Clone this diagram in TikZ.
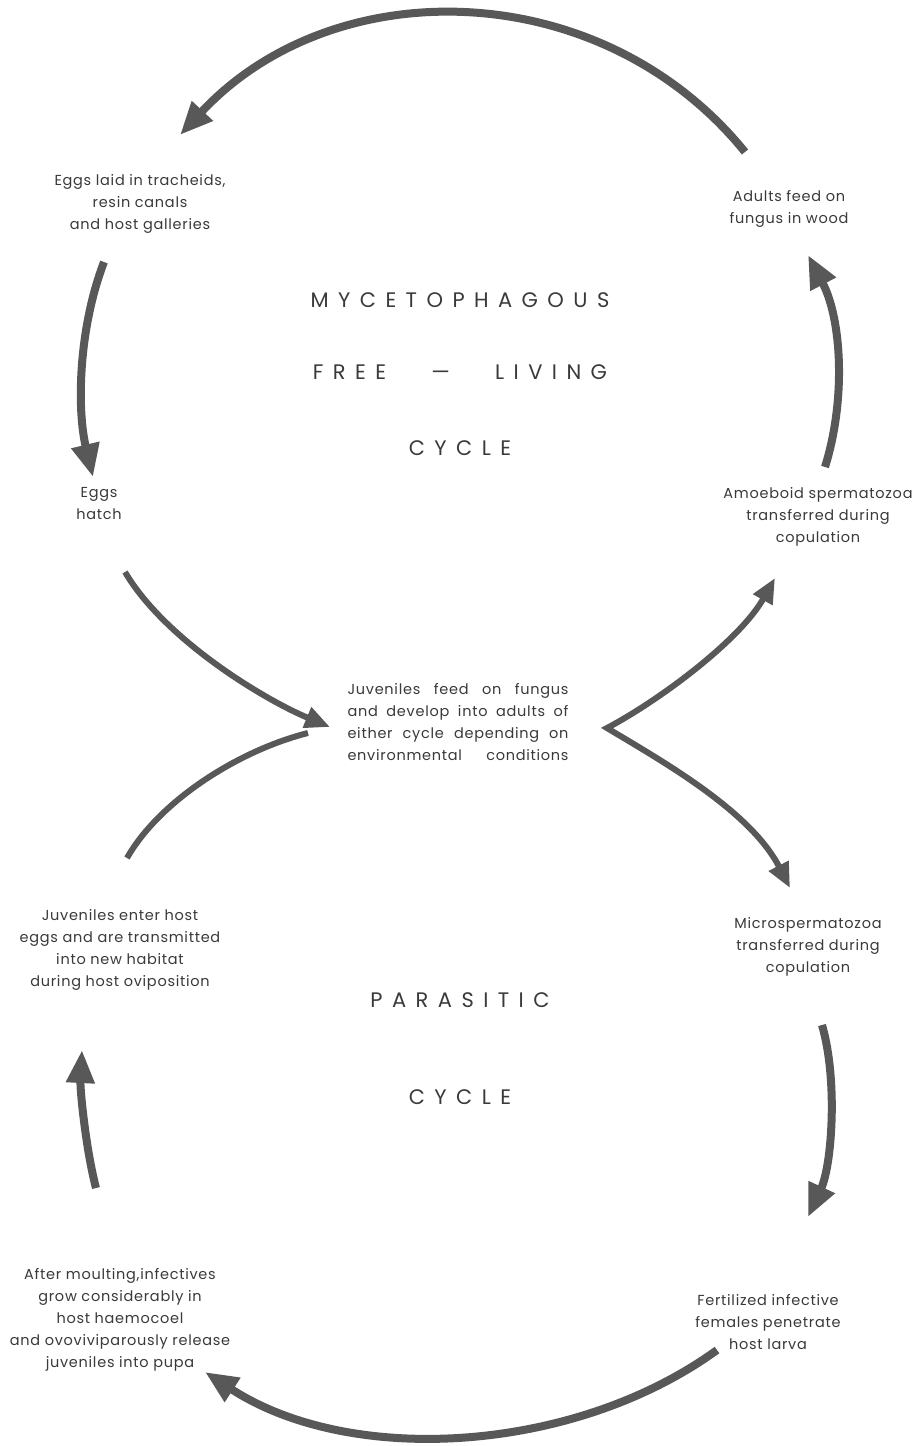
\documentclass[tikz,border=0pt]{standalone}
\usepackage{fontspec}
\setmainfont{Poppins}[LetterSpace=5]
\newfontfamily\ttlfont[LetterSpace=45]{Poppins}
\usetikzlibrary{arrows.meta}
\definecolor{ink}{HTML}{3A3A3A}
\definecolor{arr}{HTML}{585858}
\begin{document}
\begin{tikzpicture}[x=1pt,y=1pt,
  lbl/.style={font=\fontsize{14.5}{22}\selectfont, text=ink, align=center, inner sep=0pt},
  ttl/.style={font=\ttlfont\fontsize{21}{24}\selectfont, text=ink, inner sep=0pt},
  bigarr/.style={draw=arr, line width=8pt, -{Triangle[length=33pt,width=27pt]}},
  midarr/.style={draw=arr, line width=6pt, -{Triangle[length=25pt,width=21pt]}},
  midline/.style={draw=arr, line width=6pt},
  vee/.style={draw=arr, line width=6pt, line join=miter, {Triangle[length=25pt,width=21pt]}-{Triangle[length=25pt,width=21pt]}}
]
\fill[white] (0,0) rectangle (917,-1446);
\useasboundingbox (0,0) rectangle (917,-1446);

% text nodes
\node[lbl] (eggslaid) at (140,-204) {Eggs laid in tracheids,\\resin canals\\and host galleries};
\node[lbl] (adults) at (789,-209) {Adults feed on\\fungus in wood};
\node[ttl] (myc) at (460,-300) {MYCETOPHAGOUS};
\node[ttl] (free) at (460,-372) {FREE \ \ — \ \ LIVING};
\node[ttl] (cyc1) at (460,-448) {CYCLE};
\node[lbl] (hatch) at (99,-503) {Eggs\\hatch};
\node[lbl] (amoeb) at (818,-517) {Amoeboid spermatozoa\\transferred during\\copulation};
\node[lbl] (juvmid) at (458,-722) {\makebox[221pt][s]{Juveniles feed on fungus}\\\makebox[221pt][s]{and develop into adults of}\\\makebox[221pt][s]{either cycle depending on}\\\makebox[221pt][s]{environmental conditions}};
\node[lbl] (micro) at (808,-947) {Microspermatozoa\\transferred during\\copulation};
\node[lbl] (juvent) at (120,-950) {Juveniles enter host\\eggs and are transmitted\\into new habitat\\during host oviposition};
\node[ttl] (para) at (460,-1000) {PARASITIC};
\node[ttl] (cyc2) at (460,-1097) {CYCLE};
\node[lbl] (after) at (120,-1320) {After moulting,infectives\\grow considerably in\\host haemocoel\\and ovoviviparously release\\juveniles into pupa};
\node[lbl] (fert) at (768,-1322) {Fertilized infective\\females penetrate\\host larva};

% connector end points
\coordinate (a1) at (745,-152);  \coordinate (a2) at (180,-135);
\coordinate (b1) at (104,-262);  \coordinate (b2) at (93,-477);
\coordinate (c1) at (125,-572);  \coordinate (c2) at (330,-727);
\coordinate (d1) at (127,-858);  \coordinate (d2) at (308,-733);
\coordinate (v)  at (607,-728);
\coordinate (e2) at (775,-578);  \coordinate (f2) at (790,-888);
\coordinate (g1) at (825,-467);  \coordinate (g2) at (808,-255);
\coordinate (h1) at (822,-1025); \coordinate (h2) at (808,-1217);
\coordinate (i1) at (717,-1350); \coordinate (i2) at (205,-1372);
\coordinate (j1) at (96,-1188);  \coordinate (j2) at (82,-1050);

% arrows
\draw[bigarr] (a1) .. controls +(129:227) and +(47:227) .. (a2);
\draw[bigarr] (b1) .. controls (78,-330) and (77,-410) .. (b2);
\draw[midarr] (c1) .. controls (165,-640) and (265,-700) .. (c2);
\draw[midline] (d1) .. controls (160,-800) and (240,-750) .. (d2);
\draw[vee] (e2) .. controls (740,-640) and (660,-700) .. (v) .. controls (660,-760) and (750,-810) .. (f2);
\draw[bigarr] (g1) .. controls (846,-400) and (842,-320) .. (g2);
\draw[bigarr] (h1) .. controls (838,-1080) and (832,-1165) .. (h2);
\draw[bigarr] (i1) .. controls +(-144:175) and +(-33:175) .. (i2);
\draw[bigarr] (j1) .. controls (86,-1150) and (80,-1090) .. (j2);
\end{tikzpicture}
\end{document}
